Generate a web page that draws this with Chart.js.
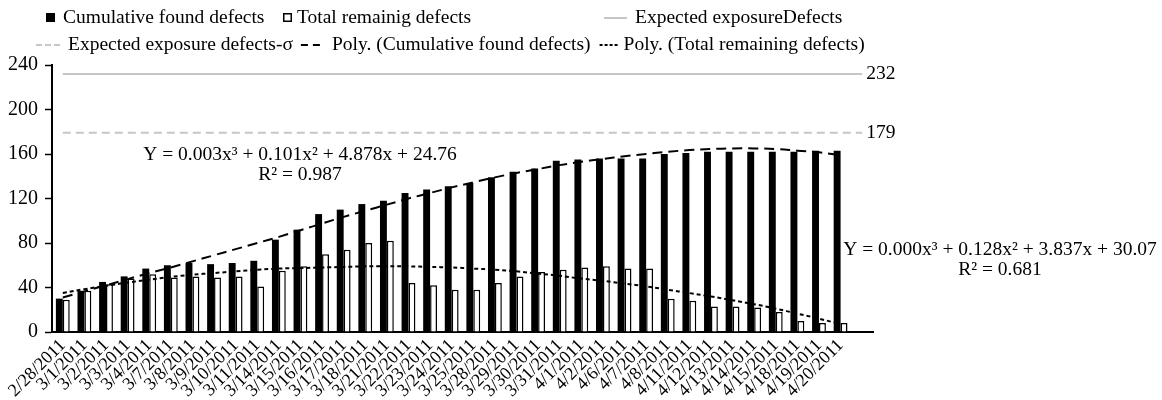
<!DOCTYPE html>
<html>
<head>
<meta charset="utf-8">
<script src="https://cdn.jsdelivr.net/npm/chart.js@4.4.1/dist/chart.umd.min.js"></script>
<style>
  body { margin: 0; background: #fff; }
  #wrap { width: 1162px; height: 400px; }
</style>
</head>
<body>
<div id="wrap"><canvas id="myChart" width="1162" height="400"></canvas></div>
<script>
// dates (last slot is blank, the expected lines run into it)
const labels = ['2/28/2011', '3/1/2011', '3/2/2011', '3/3/2011', '3/4/2011', '3/7/2011', '3/8/2011',
    '3/9/2011', '3/10/2011', '3/11/2011', '3/14/2011', '3/15/2011', '3/16/2011', '3/17/2011',
    '3/18/2011', '3/21/2011', '3/22/2011', '3/23/2011', '3/24/2011', '3/25/2011', '3/28/2011',
    '3/29/2011', '3/30/2011', '3/31/2011', '4/1/2011', '4/2/2011', '4/6/2011', '4/7/2011',
    '4/8/2011', '4/11/2011', '4/12/2011', '4/13/2011', '4/14/2011', '4/15/2011', '4/18/2011',
    '4/19/2011', '4/20/2011', ''];

const foundDefects = [30, 37, 45, 50, 57, 60, 62, 61, 62, 64, 83, 92, 106, 110, 115, 118, 125, 128,
    131, 134, 139, 144, 147, 154, 155, 156, 156, 156, 160, 161, 162, 162, 162, 162, 162, 163, 163];

const remainingDefects = [29, 37, 43, 48, 52, 49, 50, 49, 50, 41, 55, 59, 70, 74, 80, 82, 44, 42,
    38, 38, 44, 50, 54, 56, 58, 59, 57, 57, 30, 28, 23, 23, 22, 18, 10, 8, 8];

// trendlines
const foundTrend = [31, 36.5, 42, 47.5, 53, 58, 63.5, 69, 74.5, 80, 85.5, 91.5, 97.5, 103.5, 109,
    114.5, 120, 125, 130, 134.5, 139, 143, 146.5, 150, 153, 155.5, 158, 160, 162, 163.5, 164.5,
    165, 165, 164.5, 163, 161.5, 159];

const remainingTrend = [35, 38.5, 41.5, 44.5, 47, 49.5, 51.5, 53, 54.5, 56, 57, 57.5, 58, 58.5, 59,
    59, 59, 58.5, 58, 57, 56, 54.5, 52.5, 50.5, 48, 46, 43.5, 41, 38, 35, 32, 28.5, 25, 21, 16.5,
    12, 7];

const expectedDefects = 232;
const expectedSigma = 179;
const yTicks = [0, 40, 80, 120, 160, 200, 240];

const eqFound = ['Y = 0.003x\u00b3 + 0.101x\u00b2 + 4.878x + 24.76', 'R\u00b2 = 0.987'];
const eqRemaining = ['Y = 0.000x\u00b3 + 0.128x\u00b2 + 3.837x + 30.07', 'R\u00b2 = 0.681'];

const FONT = '"Liberation Serif", "Times New Roman", serif';
const GREY = '#c6c6c6';

// legend + trendline equations + end labels, drawn by hand
const extras = {
    id: 'extras',
    afterDraw(chart) {
        const c = chart.ctx;
        c.save();
        c.font = '19.5px ' + FONT;
        c.fillStyle = '#000';
        c.textBaseline = 'middle';
        c.textAlign = 'left';

        function seg(x1, x2, y, color, dash) {
            c.strokeStyle = color;
            c.lineWidth = 2;
            c.setLineDash(dash);
            c.beginPath(); c.moveTo(x1, y); c.lineTo(x2, y); c.stroke();
            c.setLineDash([]);
        }

        // row 1
        c.fillRect(46, 13, 9, 9);
        c.fillText('Cumulative found defects', 63, 18);
        c.lineWidth = 1.5;
        c.strokeStyle = '#000';
        c.strokeRect(283.75, 13.75, 7.5, 7.5);
        c.fillText('Total remainig defects', 297, 18);
        seg(604, 627, 18, GREY, []);
        c.fillText('Expected exposureDefects', 635, 18);

        // row 2, laid out one after the other
        let x = 36;
        seg(x, x + 26, 45, GREY, [6, 3]);
        x += 32;
        c.fillText('Expected exposure defects-\u03c3', x, 45);
        x += c.measureText('Expected exposure defects-\u03c3').width + 8;
        seg(x, x + 24, 45, '#000', [7, 5]);
        x += 31;
        c.fillText('Poly. (Cumulative found defects)', x, 45);
        x += c.measureText('Poly. (Cumulative found defects)').width + 9;
        seg(x, x + 19, 45, '#000', [3, 2]);
        x += 24;
        c.fillText('Poly. (Total remaining defects)', x, 45);

        // value labels at the end of the expected lines
        [[2, expectedDefects], [3, expectedSigma]].forEach(([i, v]) => {
            const pts = chart.getDatasetMeta(i).data;
            const p = pts[pts.length - 1];
            c.fillText(String(v), p.x + 4, p.y);
        });

        // trendline equations
        c.textAlign = 'center';
        c.fillText(eqFound[0], 300, 155);
        c.fillText(eqFound[1], 300, 175);
        c.fillText(eqRemaining[0], 1000, 250);
        c.fillText(eqRemaining[1], 1000, 270);
        c.restore();
    }
};

const ctx = document.getElementById('myChart').getContext('2d');
const myChart = new Chart(ctx, {
    data: {
        labels: labels,
        datasets: [{
            type: 'line',
            label: 'Poly. (Cumulative found defects)',
            data: foundTrend,
            borderColor: '#000',
            borderWidth: 2,
            borderDash: [10, 6],
            pointRadius: 0,
            tension: 0.4,
            order: 1
        }, {
            type: 'line',
            label: 'Poly. (Total remaining defects)',
            data: remainingTrend,
            borderColor: '#000',
            borderWidth: 2,
            borderDash: [4, 3],
            pointRadius: 0,
            tension: 0.4,
            order: 1
        }, {
            type: 'line',
            label: 'Expected exposureDefects',
            data: labels.map(() => expectedDefects),
            borderColor: GREY,
            borderWidth: 2,
            pointRadius: 0,
            order: 1
        }, {
            type: 'line',
            label: 'Expected exposure defects-\u03c3',
            data: labels.map(() => expectedSigma),
            borderColor: GREY,
            borderWidth: 2,
            borderDash: [8, 5],
            pointRadius: 0,
            order: 1
        }, {
            type: 'bar',
            label: 'Cumulative found defects',
            data: foundDefects,
            backgroundColor: '#000',
            borderWidth: 0,
            order: 2
        }, {
            type: 'bar',
            label: 'Total remainig defects',
            data: remainingDefects,
            backgroundColor: '#fff',
            borderColor: '#000',
            borderWidth: 1.5,
            order: 2
        }]
    },
    options: {
        responsive: false,
        animation: false,
        datasets: {
            bar: { barPercentage: 1, categoryPercentage: 0.64 }
        },
        layout: {
            padding: { top: 65, right: 289, left: 0, bottom: 0 }
        },
        scales: {
            x: {
                grid: { display: false, drawTicks: false },
                border: { color: '#000', width: 2 },
                ticks: {
                    color: '#000',
                    font: { family: FONT, size: 18 },
                    minRotation: 45,
                    maxRotation: 45,
                    autoSkip: false,
                    padding: 3
                },
                afterFit: (s) => { s.height = 68; }
            },
            y: {
                min: 0,
                max: 240,
                afterBuildTicks: (s) => { s.ticks = yTicks.map(v => ({ value: v })); },
                grid: { drawOnChartArea: false, tickLength: 7, color: '#000', tickWidth: 1.5 },
                border: { color: '#000', width: 2 },
                ticks: {
                    color: '#000',
                    font: { family: FONT, size: 20 },
                    padding: 7
                },
                afterFit: (s) => { s.width = 52; }
            }
        },
        plugins: {
            legend: { display: false },
            tooltip: { enabled: false }
        }
    },
    plugins: [extras]
});
</script>
</body>
</html>
